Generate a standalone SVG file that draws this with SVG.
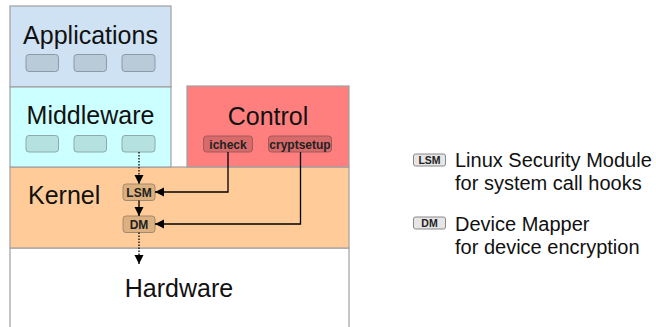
<svg xmlns="http://www.w3.org/2000/svg" width="656" height="327" viewBox="0 0 656 327">
<style>
.layer{stroke:#a0a0a0;stroke-width:1.2}
.big{font-family:"Liberation Sans",Arial,sans-serif;font-size:25px;fill:#111}
.leg{font-family:"Liberation Sans",Arial,sans-serif;font-size:20px;fill:#111}
.sm{font-family:"Liberation Sans",Arial,sans-serif;font-size:12px;font-weight:bold;fill:#222;text-anchor:middle}
.badge{font-family:"Liberation Sans",Arial,sans-serif;font-size:10.5px;font-weight:bold;fill:#222;text-anchor:middle}
.conn{stroke:#000;stroke-width:1.3;fill:none}
.dot{stroke-dasharray:1.5 1.5}
</style>
<defs>
<marker id="ah" markerWidth="10" markerHeight="10" refX="9" refY="5" orient="auto" markerUnits="userSpaceOnUse">
<path d="M0,0.5 L9,5 L0,9.5 Z" fill="#000"/>
</marker>
</defs>
<g id="hardware">
<rect class="layer" x="10" y="248" width="339" height="100" fill="#ffffff"/>
<text class="big" x="179" y="297" text-anchor="middle">Hardware</text>
</g>
<g id="kernel">
<rect class="layer" x="10" y="167" width="339" height="81" fill="#ffcc99"/>
<text class="big" x="28" y="204">Kernel</text>
</g>
<g id="applications">
<rect class="layer" x="10" y="6" width="161" height="81" fill="#cfe2f3"/>
<text class="big" x="90.5" y="44" text-anchor="middle">Applications</text>
<rect x="26" y="54.5" width="32.5" height="17" rx="3" fill="#b9cbd8" stroke="#8c9ba6"/>
<rect x="74" y="54.5" width="32.5" height="17" rx="3" fill="#b9cbd8" stroke="#8c9ba6"/>
<rect x="122" y="54.5" width="33" height="17" rx="3" fill="#b9cbd8" stroke="#8c9ba6"/>
</g>
<g id="middleware">
<rect class="layer" x="10" y="87" width="161" height="80" fill="#ccffff"/>
<text class="big" x="90.5" y="124" text-anchor="middle">Middleware</text>
<rect x="26" y="135.5" width="32.5" height="16.5" rx="3" fill="#b5e1e1" stroke="#8fa9a9"/>
<rect x="74" y="135.5" width="32.5" height="16.5" rx="3" fill="#b5e1e1" stroke="#8fa9a9"/>
<rect x="122" y="135.5" width="33" height="16.5" rx="3" fill="#b5e1e1" stroke="#8fa9a9"/>
</g>
<g id="control">
<rect class="layer" x="187" y="86" width="162" height="81" fill="#ff7f7f"/>
<text class="big" x="268" y="125" text-anchor="middle">Control</text>
<g id="icheck">
<rect x="203.5" y="136" width="49" height="16" rx="3" fill="#d86a6a" stroke="#a05a5a"/>
<text class="sm" x="228" y="148.5">icheck</text>
</g>
<g id="cryptsetup">
<rect x="268.5" y="136" width="63" height="16" rx="3" fill="#d86a6a" stroke="#a05a5a"/>
<text class="sm" x="300" y="148.5">cryptsetup</text>
</g>
</g>
<g id="lsm">
<rect x="123" y="184" width="32" height="16.5" rx="3" fill="#ddb07f" stroke="#a08a70"/>
<text class="sm" x="139" y="196.5">LSM</text>
</g>
<g id="dm">
<rect x="123" y="216" width="32" height="16.5" rx="3" fill="#ddb07f" stroke="#a08a70"/>
<text class="sm" x="139" y="228.5">DM</text>
</g>
<g id="connectors">
<path class="conn dot" d="M139,152 L139,184" marker-end="url(#ah)"/>
<path class="conn" d="M139,200.5 L139,216" marker-end="url(#ah)"/>
<path class="conn dot" d="M139,232.5 L139,264" marker-end="url(#ah)"/>
<path class="conn" d="M228,152 L228,192 L155,192" marker-end="url(#ah)"/>
<path class="conn" d="M300.5,152 L300.5,224 L155,224" marker-end="url(#ah)"/>
</g>
<g id="legend">
<g id="legend-lsm">
<rect x="413.5" y="154" width="32" height="12" rx="2" fill="#e6e6e6" stroke="#888"/>
<text class="badge" x="429.5" y="163.8">LSM</text>
<text class="leg" x="455" y="167">Linux Security Module</text>
<text class="leg" x="455" y="189.5">for system call hooks</text>
</g>
<g id="legend-dm">
<rect x="413.5" y="217" width="32" height="12" rx="2" fill="#e6e6e6" stroke="#888"/>
<text class="badge" x="429.5" y="226.8">DM</text>
<text class="leg" x="455" y="231">Device Mapper</text>
<text class="leg" x="455" y="253.5">for device encryption</text>
</g>
</g>
</svg>
